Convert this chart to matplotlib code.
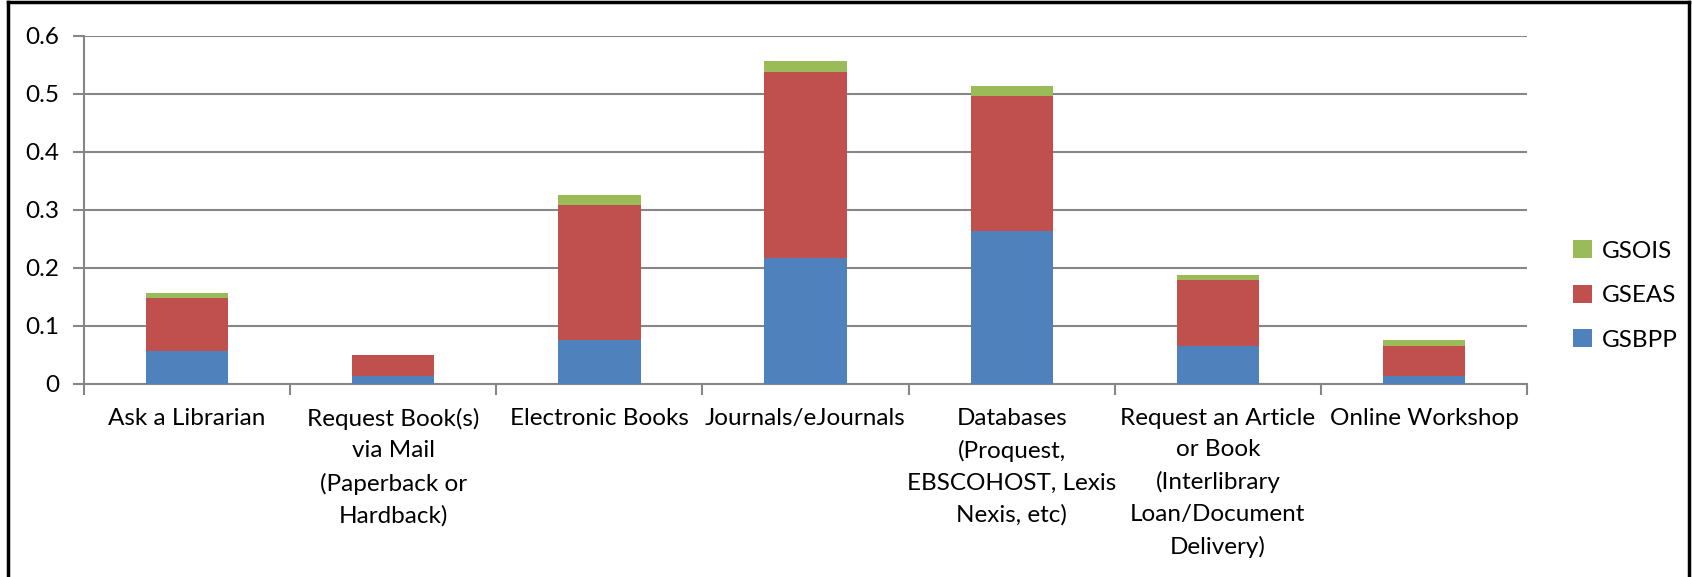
import numpy as np
import matplotlib.pyplot as plt
from matplotlib.lines import Line2D

plt.rcParams['font.family'] = ['Lato', 'DejaVu Sans']

categories = ["Ask a Librarian",
              "Request Book(s)\nvia Mail\n(Paperback or\nHardback)",
              "Electronic Books",
              "Journals/eJournals",
              "Databases\n(Proquest,\nEBSCOHOST, Lexis\nNexis, etc)",
              "Request an Article\nor Book\n(Interlibrary\nLoan/Document\nDelivery)",
              "Online Workshop"]
gsbpp = [0.056, 0.014, 0.075, 0.217, 0.263, 0.065, 0.014]
gseas = [0.093, 0.036, 0.234, 0.320, 0.234, 0.115, 0.051]
gsois = [0.007, 0.000, 0.017, 0.020, 0.017, 0.008, 0.010]

fig = plt.figure(figsize=(16.92, 5.77), dpi=100)
ax = fig.add_axes([0.0496, 0.3345, 0.853, 0.6035])

x = np.arange(len(categories))
w = 0.4
b1 = ax.bar(x, gsbpp, w, color='#4F81BD', label='GSBPP', zorder=3)
b2 = ax.bar(x, gseas, w, bottom=gsbpp, color='#C0504D', label='GSEAS', zorder=3)
b3 = ax.bar(x, gsois, w, bottom=np.array(gsbpp) + np.array(gseas),
            color='#9BBB59', label='GSOIS', zorder=3)

ax.set_xlim(-0.5, len(categories) - 0.5)
ax.set_ylim(0, 0.6)
ax.set_yticks([0, 0.1, 0.2, 0.3, 0.4, 0.5, 0.6])
ax.set_yticklabels(['0', '0.1', '0.2', '0.3', '0.4', '0.5', '0.6'])
ax.yaxis.grid(True, color='#868686', linewidth=1.5, zorder=0)

# ticks at category boundaries, labels at centers
ax.set_xticks(np.arange(-0.5, len(categories), 1.0))
ax.set_xticklabels([])
ax.set_xticks(x, minor=True)
ax.set_xticklabels(categories, minor=True, fontsize=17.5, linespacing=1.62, va='top')
ax.tick_params(axis='x', which='minor', length=0, pad=17)
ax.tick_params(axis='x', which='major', length=8, width=1.5, color='#868686')
ax.tick_params(axis='y', length=8, width=1.5, color='#868686', labelsize=17.5, pad=10)

for s in ['top', 'right']:
    ax.spines[s].set_visible(False)
for s in ['left', 'bottom']:
    ax.spines[s].set_color('#868686')
    ax.spines[s].set_linewidth(1.5)

ax.legend(handles=[b3, b2, b1], loc='center left', bbox_to_anchor=(0.917, 0.488),
          bbox_transform=fig.transFigure, frameon=False, fontsize=17.5,
          handlelength=0.75, handleheight=0.75, handletextpad=0.4, labelspacing=0.95)

# chart border (top, left, right)
fig.add_artist(Line2D([0.005, 0.005], [0, 0.997], transform=fig.transFigure, color='black', lw=2.5))
fig.add_artist(Line2D([0.005, 0.998], [0.997, 0.997], transform=fig.transFigure, color='black', lw=2.5))
fig.add_artist(Line2D([0.998, 0.998], [0, 0.997], transform=fig.transFigure, color='black', lw=2.5))

fig.savefig('out.png', dpi=100)
